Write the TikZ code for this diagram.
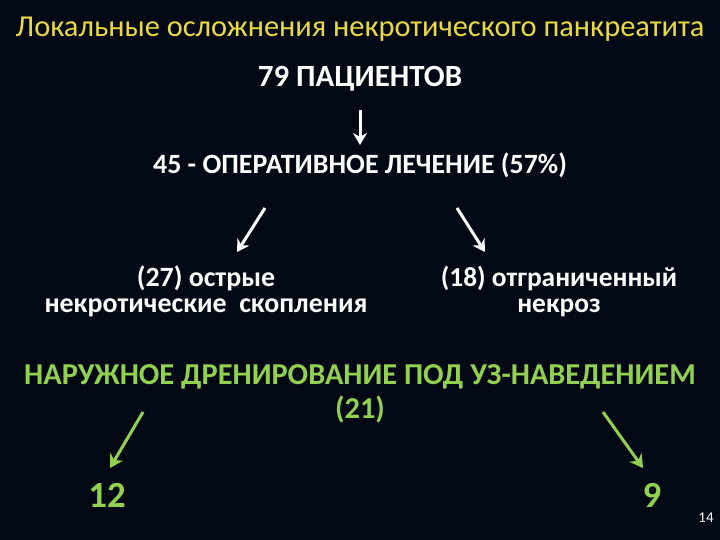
\documentclass[tikz,border=0pt]{standalone}
\usepackage{fontspec}
\setmainfont{Carlito}
\usetikzlibrary{arrows.meta}
\definecolor{bgnavy}{RGB}{2,9,20}
\definecolor{ttlyellow}{RGB}{234,218,64}
\definecolor{drngreen}{RGB}{146,208,80}

\begin{document}
\begin{tikzpicture}[x=1bp,y=-1bp,
  ttl/.style={text=ttlyellow,font=\fontsize{30.5}{32}\selectfont,anchor=base,inner sep=0pt},
  wtxt/.style={text=white,font=\bfseries\fontsize{#1}{26}\selectfont,align=center,anchor=base,inner sep=0pt},
  gtxt/.style={text=drngreen,font=\bfseries\fontsize{#1}{34}\selectfont,align=center,anchor=base,inner sep=0pt},
  warr/.style={white,line width=3bp,-{Stealth[length=12bp,width=14bp]}},
  garr/.style={drngreen,line width=3bp,-{Stealth[length=13bp,width=15bp]}}]
\fill[bgnavy] (0,0) rectangle (720,540);
\node[ttl] (title) at (360,37) {Локальные осложнения некротического панкреатита};
\node[wtxt=31] (total) at (360,87) {79 ПАЦИЕНТОВ};
\node[wtxt=28] (oper) at (360,174) {45 - ОПЕРАТИВНОЕ ЛЕЧЕНИЕ (57\%)};
% two-line nodes: base is the last line
\node[wtxt=28] (acute) at (206,312) {(27) острые\\некротические\ \ скопления};
\node[wtxt=27.5] (necr) at (559,312) {(18) отграниченный\\некроз};
\node[gtxt=30.5] (drain) at (360,418) {НАРУЖНОЕ ДРЕНИРОВАНИЕ ПОД УЗ-НАВЕДЕНИЕМ\\(21)};
\node[gtxt=37] (left) at (107,507) {12};
\node[gtxt=37] (right) at (652,507) {9};
\node[text=white,font=\fontsize{15}{15}\selectfont,anchor=base,inner sep=0pt] (pagenum) at (706,522) {14};
% arrow ends
\coordinate (t0) at (360,110); \coordinate (t1) at (360,145);
\coordinate (a0) at (265,208); \coordinate (a1) at (237,252);
\coordinate (n0) at (457,208); \coordinate (n1) at (485,252);
\coordinate (l0) at (143,412); \coordinate (l1) at (110,468);
\coordinate (r0) at (603,412); \coordinate (r1) at (643,468);
\foreach \s/\e in {t0/t1,a0/a1,n0/n1}
   \draw[warr] (\s) -- (\e);
\foreach \s/\e in {l0/l1,r0/r1}
   \draw[garr] (\s) -- (\e);
\end{tikzpicture}
\end{document}
